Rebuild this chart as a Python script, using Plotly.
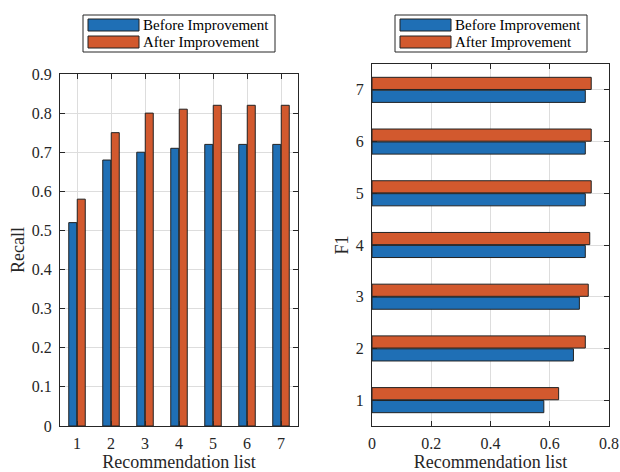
import plotly.graph_objects as go
from plotly.subplots import make_subplots

# Recommendation list lengths
lists = [1, 2, 3, 4, 5, 6, 7]
series_names = ["Before Improvement", "After Improvement"]

recall_before = [0.52, 0.68, 0.70, 0.71, 0.72, 0.72, 0.72]
recall_after = [0.58, 0.75, 0.80, 0.81, 0.82, 0.82, 0.82]

f1_before = [0.58, 0.68, 0.70, 0.72, 0.72, 0.72, 0.72]
f1_after = [0.63, 0.72, 0.73, 0.735, 0.74, 0.74, 0.74]

recall_ticks = [0, 0.1, 0.2, 0.3, 0.4, 0.5, 0.6, 0.7, 0.8, 0.9]
f1_ticks = [0, 0.2, 0.4, 0.6, 0.8]

colors = ["#1f6fb5", "#d2592e"]
W, H = 620, 472
FONT = "Times New Roman, Liberation Serif, serif"
INK = "#262626"

fig = make_subplots(rows=1, cols=2)

for name, vals, c in zip(series_names, [recall_before, recall_after], colors):
    fig.add_trace(go.Bar(x=lists, y=vals, name=name, marker_color=c,
                         marker_line=dict(color="#222222", width=1),
                         showlegend=False), row=1, col=1)

for name, vals, c in zip(series_names, [f1_before, f1_after], colors):
    fig.add_trace(go.Bar(x=vals, y=lists, name=name, orientation="h",
                         marker_color=c,
                         marker_line=dict(color="#222222", width=1),
                         showlegend=False), row=1, col=2)

axis_style = dict(showline=True, linecolor=INK, linewidth=1, mirror="ticks",
                  ticks="inside", ticklen=5, tickcolor=INK,
                  showgrid=True, gridcolor="#dddddd", gridwidth=1,
                  zeroline=False, automargin=False,
                  tickfont=dict(family=FONT, size=16, color=INK))

px = lambda v: v / W
py = lambda v: 1 - v / H

fig.update_xaxes(ticklabelstandoff=3, **axis_style)
fig.update_yaxes(ticklabelstandoff=4, **axis_style)

title_font = dict(family=FONT, size=18, color=INK)

fig.update_layout(
    xaxis=dict(domain=[px(60), px(298)], range=[0.5, 7.5], tickvals=lists,
               title=dict(text="Recommendation list", standoff=2, font=title_font)),
    yaxis=dict(domain=[py(426), py(74)], range=[0, 0.9], tickvals=recall_ticks,
               ticktext=[f"{t:g}" for t in recall_ticks],
               title=dict(text="Recall", standoff=2, font=title_font)),
    xaxis2=dict(domain=[px(372), px(609)], range=[0, 0.8], tickvals=f1_ticks,
                ticktext=[f"{t:g}" for t in f1_ticks],
                title=dict(text="Recommendation list", standoff=2, font=title_font)),
    yaxis2=dict(domain=[py(426), py(64)], range=[0.5, 7.5], tickvals=lists,
                title=dict(text="F1", standoff=2, font=title_font)),
    barmode="group", bargap=0.5, bargroupgap=0.06,
    width=W, height=H, margin=dict(l=0, r=0, t=0, b=0),
    plot_bgcolor="white", paper_bgcolor="white",
)

# Legend boxes above each panel
shapes = []
annotations = []
for box_x0, box_x1, sw_x0, sw_x1 in [(83, 275, 88, 139), (395, 587, 400, 451)]:
    shapes.append(dict(type="rect", xref="paper", yref="paper",
                       x0=px(box_x0), x1=px(box_x1), y0=py(52), y1=py(15),
                       line=dict(color=INK, width=1), fillcolor="white"))
    for i, (name, c) in enumerate(zip(series_names, colors)):
        top = 19 + i * 17
        shapes.append(dict(type="rect", xref="paper", yref="paper",
                           x0=px(sw_x0), x1=px(sw_x1), y0=py(top + 12), y1=py(top),
                           line=dict(color="#222222", width=1), fillcolor=c))
        annotations.append(dict(text=name, xref="paper", yref="paper",
                                x=px(sw_x1 + 2), y=py(top + 6), xanchor="left",
                                yanchor="middle", showarrow=False,
                                font=dict(family=FONT, size=15, color="black")))

fig.update_layout(shapes=shapes, annotations=annotations)

fig.write_html("out.html")
